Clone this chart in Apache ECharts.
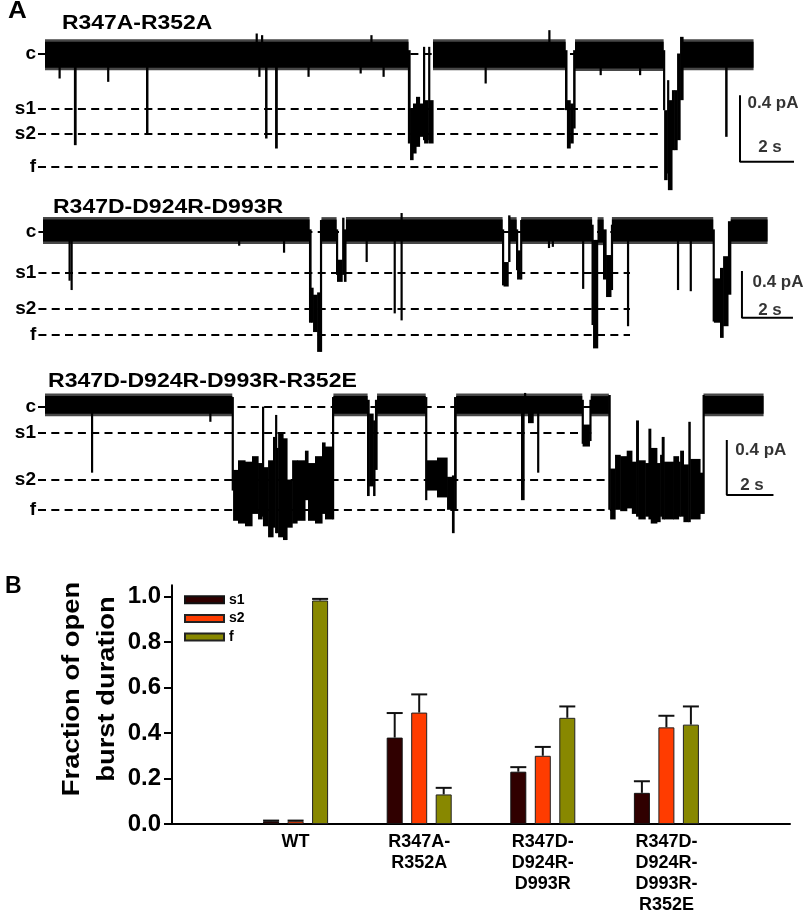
<!DOCTYPE html>
<html><head><meta charset="utf-8">
<script src="https://cdn.jsdelivr.net/npm/echarts@6/dist/echarts.min.js"></script>
<style>html,body{margin:0;padding:0;background:#fff}#chart{width:812px;height:916px}</style>
</head><body><div id="chart"></div>
<script>
const FONT = '"Liberation Sans", Arial, Helvetica, sans-serif';

// ---------- Panel A: single-channel traces (time s, current pA) ----------
const levelNames = ['c', 's1', 's2', 'f'];
const trace1Levels = [0, -0.33, -0.48, -0.68];
const trace2Levels = [0, -0.348, -0.662, -0.885];
const trace3Levels = [0, -0.189, -0.533, -0.751];
const trace1LevelSpan = [[-0.26, 22.89], [-0.26, 22.89], [-0.26, 22.89], [-0.26, 22.89]];
const trace2LevelSpan = [[-0.18, 23.02], [-0.18, 23.02], [-0.18, 23.02], [-0.18, 23.02]];
const trace3LevelSpan = [[-0.3, 24.0], [-0.3, 23.57], [-0.3, 24.0], [-0.3, 24.34]];

// closed-state band pieces [t0, t1, min, max]
const trace1Band = [[0,13.44,-0.1,0.085],[14.37,19.26,-0.1,0.085],[19.63,22.89,-0.105,0.085],[23.63,26.22,-0.1,0.085]];
// excursions [t0, t1, min, max]
const trace1Events = [
[0.5,0.56,-0.15,0],[1.07,1.15,-0.55,0],[2.3,2.36,-0.17,0],[3.74,3.81,-0.48,0],
[7.8,7.86,0,0.12],[8.0,8.06,0,0.11],[7.9,7.95,-0.14,0],[8.15,8.22,-0.51,0],[8.52,8.6,-0.57,0],
[9.72,9.78,-0.14,0],[11.65,11.71,-0.12,0],[12.05,12.11,0,0.11],[12.5,12.56,-0.14,0],
[13.44,13.52,-0.54,0.02],[13.52,13.63,-0.64,-0.33],[13.63,13.74,-0.6,-0.3],[13.74,13.87,-0.56,-0.26],
[13.87,14.0,-0.5,-0.3],[14.0,14.04,-0.52,0.04],[14.04,14.19,-0.54,-0.28],[14.19,14.22,-0.52,0.04],
[14.22,14.37,-0.54,-0.28],[16.28,16.34,-0.18,0],[18.64,18.7,0,0.14],
[19.26,19.33,-0.34,0.02],[19.33,19.45,-0.57,-0.28],[19.45,19.56,-0.54,-0.3],[19.56,19.63,-0.45,0.02],
[20.54,20.6,-0.13,0],[22.0,22.06,-0.13,0],
[22.89,22.93,-0.34,0.02],[22.93,23.04,-0.76,-0.34],[23.04,23.07,-0.72,-0.16],[23.07,23.22,-0.82,-0.28],
[23.22,23.3,-0.58,-0.22],[23.3,23.41,-0.58,-0.22],[23.41,23.52,-0.52,0.0],[23.52,23.63,-0.28,0.1],
[25.19,25.26,-0.5,0]
];

const trace2Band = [[0,10.43,-0.105,0.125],[10.92,11.49,-0.105,0.125],[11.88,18.0,-0.105,0.125],[18.31,18.55,-0.105,0.125],
[18.75,21.51,-0.105,0.125],[21.75,21.96,-0.115,0.125],[22.31,26.26,-0.105,0.125],[26.97,28.39,-0.105,0.125]];
const trace2Events = [
[1.0,1.06,-0.42,0],[1.08,1.12,-0.5,0],[7.65,7.69,-0.12,0],[9.41,9.45,-0.18,0],
[10.43,10.51,-0.78,0.02],[10.51,10.59,-0.78,-0.48],[10.59,10.75,-0.86,-0.54],[10.75,10.86,-1.03,-0.52],[10.86,10.92,-1.03,0.1],
[11.49,11.53,-0.37,0.02],[11.53,11.73,-0.43,-0.24],[11.73,11.8,-0.37,0.12],[11.8,11.88,-0.43,0.02],
[12.65,12.69,-0.26,0],[13.75,13.81,-0.7,0],[14.02,14.08,-0.76,0.16],
[18.0,18.06,-0.46,0.02],[18.06,18.24,-0.47,-0.26],[18.24,18.31,-0.26,0.14],
[18.55,18.59,-0.33,0.02],[18.59,18.71,-0.41,-0.16],[18.71,18.75,-0.41,0.1],
[19.8,19.86,-0.14,0],[19.95,20.0,-0.13,0],[21.14,21.2,-0.49,0],
[21.51,21.57,-0.8,0.06],[21.57,21.75,-1.0,-0.07],[21.96,22.08,-0.41,0.02],[22.08,22.27,-0.56,-0.2],[22.27,22.31,-0.5,0.06],
[22.9,22.96,-0.81,0],[24.86,24.92,-0.5,0],[25.36,25.42,-0.51,0],
[26.26,26.31,-0.77,0.02],[26.31,26.55,-0.78,-0.4],[26.55,26.67,-0.91,-0.31],[26.67,26.86,-0.81,-0.21],[26.86,26.97,-0.54,0.09]
];

const trace3Band = [[0,8.0,-0.07,0.095],[12.36,13.8,-0.07,0.095],[14.23,16.29,-0.07,0.095],[17.62,23.0,-0.07,0.095],
[23.39,24.14,-0.07,0.095],[28.22,30.77,-0.07,0.095]];
const trace3Events = [
[1.97,2.03,-0.48,0],[7.04,7.08,-0.11,0],
[8.0,8.06,-0.61,0.07],[8.06,8.27,-0.83,-0.46],[8.27,8.57,-0.85,-0.39],[8.57,8.87,-0.87,-0.4],
[8.87,9.13,-0.78,-0.36],[9.13,9.3,-0.82,-0.41],[9.3,9.34,-0.8,0.0],[9.34,9.56,-0.87,-0.44],
[9.56,9.77,-0.95,-0.39],[9.77,9.86,-0.88,-0.22],[9.86,9.9,-0.92,-0.06],[9.9,9.99,-0.92,-0.3],
[9.99,10.2,-0.95,-0.19],[10.2,10.37,-0.97,-0.23],[10.37,10.59,-0.88,-0.53],[10.59,10.8,-0.85,-0.39],
[10.8,11.14,-0.83,-0.39],[11.14,11.27,-0.68,-0.32],[11.27,11.57,-0.83,-0.41],[11.57,11.87,-0.85,-0.36],
[11.87,12.0,-0.78,-0.26],[12.0,12.3,-0.82,-0.29],[12.3,12.36,-0.82,0.07],
[13.8,13.89,-0.65,0.05],[13.89,14.06,-0.58,-0.05],[14.06,14.14,-0.65,-0.1],[14.14,14.23,-0.46,0.05],
[16.29,16.36,-0.68,0.07],[16.36,16.8,-0.61,-0.39],[16.8,17.23,-0.66,-0.37],[17.23,17.44,-0.75,-0.51],
[17.44,17.53,-0.92,-0.5],[17.53,17.62,-0.75,0.07],
[20.4,20.53,-0.68,0],[20.53,20.58,0,0.1],[20.7,20.92,-0.12,0],[21.09,21.15,-0.48,0],
[23.0,23.04,-0.27,0.05],[23.04,23.33,-0.29,-0.13],[23.33,23.39,-0.25,0.05],
[24.14,24.22,-0.75,0.085],[24.22,24.43,-0.82,-0.45],[24.43,24.65,-0.75,-0.35],[24.65,24.93,-0.76,-0.36],
[24.93,25.15,-0.74,-0.32],[25.15,25.33,-0.78,-0.4],[25.33,25.43,-0.8,-0.1],[25.43,25.72,-0.82,-0.39],
[25.72,25.86,-0.8,-0.41],[25.86,25.96,-0.82,-0.16],[25.96,26.22,-0.85,-0.3],[26.22,26.36,-0.84,-0.41],
[26.36,26.43,-0.8,-0.35],[26.43,26.53,-0.82,-0.22],[26.53,26.93,-0.82,-0.4],[26.93,27.15,-0.82,-0.36],
[27.15,27.22,-0.8,-0.4],[27.22,27.36,-0.8,-0.32],[27.36,27.57,-0.84,-0.42],[27.57,27.65,-0.84,-0.11],
[27.65,28.07,-0.82,-0.38],[28.07,28.18,-0.78,-0.48],[28.18,28.22,-0.78,0.085]
];

// scale bars (0.4 pA, 2 s) and their labels
const scaleBar1 = [[25.74,-0.25],[25.74,-0.65],[27.74,-0.65]];
const scaleBar2 = [[27.41,-0.337],[27.41,-0.737],[29.41,-0.737]];
const scaleBar3 = [[29.22,-0.242],[29.22,-0.642],[31.22,-0.642]];
const scaleText1 = [[25.74,-0.297,'0.4 pA'],[26.85,-0.564,'2 s']];
const scaleText2 = [[27.41,-0.431,'0.4 pA'],[28.51,-0.671,'2 s']];
const scaleText3 = [[29.22,-0.315,'0.4 pA'],[30.3,-0.569,'2 s']];
const traceTitles = ['R347A-R352A', 'R347D-D924R-D993R', 'R347D-D924R-D993R-R352E'];

// ---------- Panel B: bar chart ----------
const groups = ['', 'WT', 'R347A-\nR352A', 'R347D-\nD924R-\nD993R', 'R347D-\nD924R-\nD993R-\nR352E', ''];
const s1Values = ['-', 0.012, 0.38, 0.23, 0.137, '-'];
const s2Values = ['-', 0.012, 0.49, 0.30, 0.425, '-'];
const fValues  = ['-', 0.983, 0.13, 0.467, 0.437, '-'];
const s1Err = [null, 0.003, 0.108, 0.02, 0.051, null];
const s2Err = [null, 0.003, 0.08, 0.039, 0.051, null];
const fErr  = [null, 0.007, 0.029, 0.05, 0.08, null];
const yTicks = [0, 0.2, 0.4, 0.6, 0.8, 1.0];

// ---------- builders ----------
function traceSeries(idx, band, events) {
  const data = band.map(s => s.concat(1)).concat(events.map(s => s.concat(0)));
  return {
    type: 'custom', xAxisIndex: idx, yAxisIndex: idx, z: 3, silent: true,
    encode: { x: [0, 1], y: [2, 3] }, data,
    renderItem(params, api) {
      const a = api.coord([api.value(0), api.value(3)]);
      const b = api.coord([api.value(1), api.value(2)]);
      const w = Math.max(b[0] - a[0], 1.6) + 0.6;
      const h = Math.max(b[1] - a[1], 1);
      if (api.value(4) === 1) {
        return { type: 'group', children: [
          { type: 'rect', shape: { x: a[0], y: a[1], width: w, height: h }, style: { fill: 'rgba(0,0,0,0.72)' } },
          { type: 'rect', shape: { x: a[0], y: a[1] + 2.5, width: w, height: h - 5 }, style: { fill: '#000' } }
        ] };
      }
      return { type: 'rect', shape: { x: a[0], y: a[1], width: w, height: h }, style: { fill: '#000' } };
    }
  };
}
function levelSeries(idx, levels, spans) {
  return {
    type: 'line', xAxisIndex: idx, yAxisIndex: idx, z: 1, data: [], silent: true,
    markLine: {
      silent: true, symbol: ['none', 'none'], animation: false,
      lineStyle: { color: '#000', width: 2, type: [8, 5.3] },
      label: { show: true, position: 'start', formatter: '{b}', color: '#000', fontSize: 19,
        fontWeight: 'bold', fontFamily: FONT, distance: 2 },
      emphasis: { disabled: true },
      data: levels.map((v, i) => [{ name: levelNames[i], coord: [spans[i][0], v] }, { coord: [spans[i][1], v] }])
    }
  };
}
function scaleSeries(idx, pts) {
  return { type: 'line', xAxisIndex: idx, yAxisIndex: idx, z: 2, data: pts, symbol: 'none', silent: true,
    lineStyle: { color: '#000', width: 2 } };
}
function scaleTextSeries(idx, items, dist) {
  return { type: 'scatter', xAxisIndex: idx, yAxisIndex: idx, z: 4, silent: true, symbolSize: 1,
    itemStyle: { color: 'rgba(0,0,0,0)' },
    data: items.map((d, i) => ({ value: [d[0], d[1]], name: d[2],
      label: { show: true, formatter: '{b}', position: i === 0 ? 'right' : 'inside', distance: dist,
        color: '#000', fontSize: 17, fontWeight: 'bold', fontFamily: FONT } })) };
}
function errSeries(values, errs, offset) {
  const data = [];
  values.forEach((v, i) => { if (errs[i] != null) data.push([i, v, errs[i]]); });
  return {
    type: 'custom', xAxisIndex: 3, yAxisIndex: 3, z: 1, silent: true, data,
    renderItem(params, api) {
      const c = api.value(0), v = api.value(1), e = api.value(2);
      const p0 = api.coord([c, v]), p1 = api.coord([c, v + e]);
      const x = p0[0] + offset;
      return { type: 'group', children: [
        { type: 'line', shape: { x1: x, y1: p0[1], x2: x, y2: p1[1] }, style: { stroke: '#111', lineWidth: 2 } },
        { type: 'line', shape: { x1: x - 8, y1: p1[1], x2: x + 8, y2: p1[1] }, style: { stroke: '#111', lineWidth: 2 } }
      ] };
    }
  };
}
const hidden = { show: false };
function tAxis(idx, min, max) { return { type: 'value', gridIndex: idx, min, max, show: false }; }
function iAxis(idx, min, max) { return { type: 'value', gridIndex: idx, min, max, show: false }; }

const BW = 16, GAP = 8.5;
const option = {
  animation: false,
  textStyle: { fontFamily: FONT },
  grid: [
    { left: 34.2, top: 28.5, width: 766.8, height: 175 },
    { left: 32.8, top: 208.36, width: 775.2, height: 151.7 },
    { left: 35.67, top: 372.3, width: 756, height: 178.75 },
    { left: 172, top: 585.25, width: 618, height: 240.45 }
  ],
  xAxis: [
    tAxis(0, -0.4, 28), tAxis(1, -0.4, 30), tAxis(2, -0.4, 32),
    { type: 'category', gridIndex: 3, data: groups, boundaryGap: false,
      axisLine: { lineStyle: { color: '#000', width: 2 } }, axisTick: hidden,
      axisLabel: { interval: 0, color: '#000', fontSize: 18, fontWeight: 'bold', lineHeight: 21, margin: 8, fontFamily: FONT } }
  ],
  yAxis: [
    iAxis(0, -0.9, 0.15), iAxis(1, -1.1, 0.2), iAxis(2, -1.05, 0.25),
    { type: 'value', gridIndex: 3, min: 0, max: 1.05, splitLine: hidden,
      axisLine: { show: true, lineStyle: { color: '#000', width: 2 } },
      axisTick: { show: true, length: 8, lineStyle: { color: '#000', width: 2 }, customValues: yTicks },
      axisLabel: { customValues: yTicks, formatter: v => v.toFixed(1), color: '#000', fontSize: 24,
        fontWeight: 'bold', margin: 11, fontFamily: FONT } }
  ],
  legend: {
    data: ['s1', 's2', 'f'], orient: 'vertical', left: 184, top: 592.7, padding: 0,
    itemWidth: 39, itemHeight: 7, itemGap: 4.7, icon: 'rect', selectedMode: false,
    textStyle: { fontSize: 14, fontWeight: 'bold', color: '#000', lineHeight: 7, fontFamily: FONT }
  },
  graphic: [
    { type: 'text', x: 8, y: 11.7, scaleX: 1.13, style: { text: 'A', font: 'bold 23px ' + FONT, fill: '#000', verticalAlign: 'middle' } },
    { type: 'text', x: 5, y: 586.5, style: { text: 'B', font: 'bold 23px ' + FONT, fill: '#000', verticalAlign: 'middle' } },
    { type: 'text', x: 62, y: 23.5, scaleX: 1.145, style: { text: traceTitles[0], font: 'bold 20px ' + FONT, fill: '#000', verticalAlign: 'middle' } },
    { type: 'text', x: 53, y: 207.7, scaleX: 1.15, style: { text: traceTitles[1], font: 'bold 20px ' + FONT, fill: '#000', verticalAlign: 'middle' } },
    { type: 'text', x: 48, y: 381.7, scaleX: 1.153, style: { text: traceTitles[2], font: 'bold 20px ' + FONT, fill: '#000', verticalAlign: 'middle' } },
    { type: 'text', x: 89.5, y: 689, rotation: Math.PI / 2, scaleX: 1.14,
      style: { text: 'Fraction of open\nburst duration', font: 'bold 24px ' + FONT, fill: '#000',
        align: 'center', verticalAlign: 'middle', lineHeight: 35 } }
  ],
  series: [
    levelSeries(0, trace1Levels, trace1LevelSpan),
    levelSeries(1, trace2Levels, trace2LevelSpan),
    levelSeries(2, trace3Levels, trace3LevelSpan),
    traceSeries(0, trace1Band, trace1Events),
    traceSeries(1, trace2Band, trace2Events),
    traceSeries(2, trace3Band, trace3Events),
    scaleSeries(0, scaleBar1), scaleSeries(1, scaleBar2), scaleSeries(2, scaleBar3),
    scaleTextSeries(0, scaleText1, 7), scaleTextSeries(1, scaleText2, 10), scaleTextSeries(2, scaleText3, 8),
    { type: 'bar', name: 's1', xAxisIndex: 3, yAxisIndex: 3, data: s1Values, barWidth: BW, barGap: (GAP / BW * 100) + '%', z: 2,
      itemStyle: { color: '#300000', borderColor: '#111', borderWidth: 1 } },
    { type: 'bar', name: 's2', xAxisIndex: 3, yAxisIndex: 3, data: s2Values, barWidth: BW, barGap: (GAP / BW * 100) + '%', z: 2,
      itemStyle: { color: '#ff3c00', borderColor: '#222', borderWidth: 1 } },
    { type: 'bar', name: 'f', xAxisIndex: 3, yAxisIndex: 3, data: fValues, barWidth: BW, barGap: (GAP / BW * 100) + '%', z: 2,
      itemStyle: { color: '#888800', borderColor: '#222', borderWidth: 1 } },
    errSeries(s1Values, s1Err, -(BW + GAP)),
    errSeries(s2Values, s2Err, 0),
    errSeries(fValues, fErr, BW + GAP)
  ]
};
const chart = echarts.init(document.getElementById('chart'), null, { renderer: 'canvas' });
chart.setOption(option);
</script></body></html>
